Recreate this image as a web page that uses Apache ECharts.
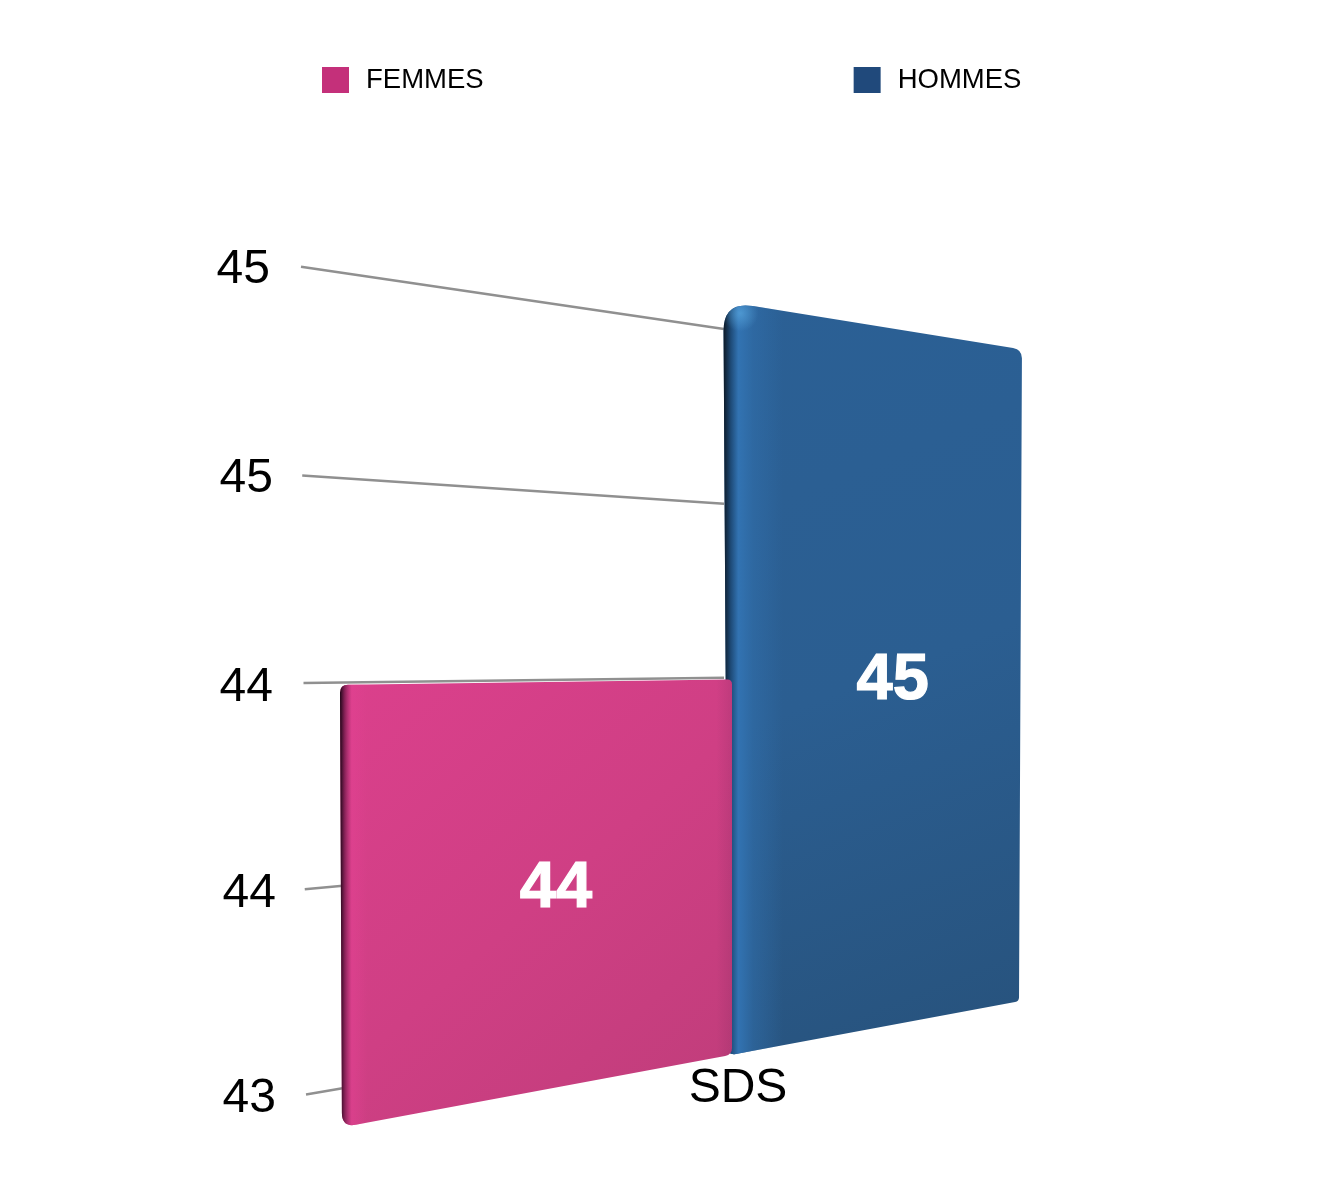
<!DOCTYPE html>
<html>
<head>
<meta charset="utf-8">
<style>html,body{margin:0;padding:0;background:#fff}#c{width:1331px;height:1178px}</style>
<script src="https://cdn.jsdelivr.net/npm/echarts@6/dist/echarts.min.js"></script>
</head>
<body>
<div id="c"></div>
<script>
const categories = ['SDS'];
const femmes = [44];
const hommes = [45];
const yTicks = [43, 43.5, 44, 44.5, 45];
const yTickLabels = ['43', '44', '44', '45', '45'];

const FONT = '"Liberation Sans", Arial, sans-serif';
const VX = 2907, VY = 650;       // vanishing point of the perspective
const TOP_R = 1.07, BASE_R = 1.089; // depth ratio of the bar plane to the wall plane
const AXIS_MIN = 43, AXIS_MAX = 45;
const chart = echarts.init(document.getElementById('c'), null, {renderer: 'canvas'});

// slight bow of the perspective in the middle of the value range
function bow(v) {
  const t = v - 44;
  return 2 * (1 - t * t);
}
function project(gridY, x0, x, r) {
  const k = (VY - gridY) / (VX - x0);
  return VY - k * r * (VX - x);
}
function roundedPath(p, rad) {
  let d = '';
  for (let i = 0; i < 4; i++) {
    const a = p[(i + 3) % 4], b = p[i], c = p[(i + 1) % 4];
    const r = rad[i];
    const la = Math.hypot(a[0]-b[0], a[1]-b[1]), lc = Math.hypot(c[0]-b[0], c[1]-b[1]);
    const s = [b[0] + (a[0]-b[0]) * r / la, b[1] + (a[1]-b[1]) * r / la];
    const e = [b[0] + (c[0]-b[0]) * r / lc, b[1] + (c[1]-b[1]) * r / lc];
    d += (i === 0 ? 'M' : 'L') + s[0] + ' ' + s[1] + ' Q' + b[0] + ' ' + b[1] + ' ' + e[0] + ' ' + e[1] + ' ';
  }
  return d + 'Z';
}
const looks = {
  FEMMES: {
    topL: -0.4575, topR: -0.0069, botL: -0.4552, botR: -0.0069, rad: [8, 5, 7, 14], lift: [0, 0],
    base: [[0, '#db408c'], [0.5, '#cf3f84'], [1, '#bf3d7a']],
    bevel: [[0, 'rgba(25,5,20,0.98)'], [0.012, 'rgba(120,28,78,0.85)'], [0.03, 'rgba(225,65,145,0.6)'], [0.07, 'rgba(225,65,145,0)'], [0.96, 'rgba(120,40,90,0)'], [1, 'rgba(120,40,90,0.2)']],
    label: '44'
  },
  HOMMES: {
    topL: -0.0168, topR: 0.3264, botL: -0.0115, botR: 0.323, rad: [30, 9, 4, 8], lift: [-5, -4],
    base: [[0, '#2b6095'], [0.5, '#2b5e91'], [1, '#27527c']],
    bevel: [[0, 'rgba(12,24,36,1)'], [0.025, 'rgba(30,75,120,1)'], [0.05, 'rgba(50,115,178,1)'], [0.1, 'rgba(50,115,178,0.45)'], [0.2, 'rgba(50,115,178,0)'], [1, 'rgba(50,115,178,0)']],
    label: '45'
  }
};

function renderBar(params, api) {
  const look = looks[params.seriesName];
  const value = api.value(1);
  const c = api.coord([0, value]);
  const base = api.coord([0, AXIS_MIN]);
  const topY = c[1] + bow(value);
  const bw = api.size([1, 0])[0];
  const x0 = params.coordSys.x;
  const xTL = c[0] + look.topL * bw, xTR = c[0] + look.topR * bw;
  const xBL = c[0] + look.botL * bw, xBR = c[0] + look.botR * bw;
  const pts = [
    [xTL, project(topY, x0, xTL, TOP_R) + look.lift[0]],
    [xTR, project(topY, x0, xTR, TOP_R) + look.lift[1]],
    [xBR, project(base[1], x0, xBR, BASE_R)],
    [xBL, project(base[1], x0, xBL, BASE_R)]
  ];
  const d = roundedPath(pts, look.rad);
  const G = echarts.graphic;
  const minY = Math.min(pts[0][1], pts[1][1]), maxY = Math.max(pts[2][1], pts[3][1]);
  const children = [
    {type: 'path', shape: {pathData: d}, style: {
      fill: new G.LinearGradient(xTL, minY, xTR, maxY, look.base.map(s => ({offset: s[0], color: s[1]})), true)}},
    {type: 'path', shape: {pathData: d}, style: {
      fill: new G.LinearGradient(xTL, 0, xTR, 0, look.bevel.map(s => ({offset: s[0], color: s[1]})), true)}}
  ];
  if (params.seriesName === 'HOMMES') {
    children.push({type: 'path', shape: {pathData: d}, style: {
      fill: new G.RadialGradient(pts[0][0] + 17, pts[0][1] + 12, 18, [
        {offset: 0, color: 'rgba(95,175,230,0.6)'}, {offset: 1, color: 'rgba(95,175,230,0)'}], true)}});
  }
  const midX = (xTL + xTR) / 2;
  const tY = project(topY, x0, midX, TOP_R), bY = project(base[1], x0, midX, BASE_R);
  children.push({type: 'text', style: {
    text: look.label, x: midX + 0.023 * bw, y: (tY + bY) / 2 + 2,
    align: 'center', verticalAlign: 'middle',
    font: 'bold 65px ' + FONT, fill: '#fff', stroke: '#fff', lineWidth: 1.2}});
  return {type: 'group', children};
}

function renderWall(params, api) {
  const v = api.value(1);
  const c = api.coord([0, v]);
  const y = c[1] + bow(v);
  const x0 = params.coordSys.x;
  const xa = x0 + (AXIS_MAX - v) * 2.5 - 2;
  const xb = x0 + 421;
  return {type: 'line', shape: {x1: xa, y1: project(y, x0, xa, 1), x2: xb, y2: project(y, x0, xb, 1)},
    style: {stroke: '#909090', lineWidth: 2.5}};
}

chart.setOption({
  animation: false,
  backgroundColor: '#fff',
  legend: {
    data: ['FEMMES', 'HOMMES'],
    left: 317, top: 61, itemWidth: 27, itemHeight: 26, itemGap: 370,
    icon: 'rect', selectedMode: false,
    textStyle: {fontFamily: FONT, fontSize: 27.5, color: '#000', padding: [4, 0, 0, 12]}
  },
  grid: {left: 303, width: 870, top: 267, height: 828},
  xAxis: {
    type: 'category', data: categories,
    axisLine: {show: false}, axisTick: {show: false}, splitLine: {show: false},
    axisLabel: {fontFamily: FONT, fontSize: 48, color: '#000', margin: -30}
  },
  yAxis: {
    type: 'value', min: AXIS_MIN, max: AXIS_MAX, interval: 0.5,
    axisLine: {show: false}, axisTick: {show: false}, splitLine: {show: false},
    axisLabel: {
      margin: 27, align: 'right',
      formatter: function (value) {
        const i = yTicks.indexOf(value);
        return '{p' + i + '|' + yTickLabels[i] + '}';
      },
      rich: {
        p0: {fontFamily: FONT, fontSize: 48, color: '#000', padding: [8, 0, 0, 0]},
        p1: {fontFamily: FONT, fontSize: 48, color: '#000', padding: [12, 0, 0, 0]},
        p2: {fontFamily: FONT, fontSize: 48, color: '#000', padding: [14, 3, 0, 0]},
        p3: {fontFamily: FONT, fontSize: 48, color: '#000', padding: [10, 3, 0, 0]},
        p4: {fontFamily: FONT, fontSize: 48, color: '#000', padding: [6, 6, 0, 0]}
      }
    }
  },
  series: [
    {name: 'wall', type: 'custom', z: 1, clip: false, renderItem: renderWall,
      encode: {x: 0, y: 1}, data: yTicks.map(v => [0, v]), silent: true},
    {name: 'HOMMES', type: 'custom', z: 2, clip: false, renderItem: renderBar,
      itemStyle: {color: '#20497b'}, encode: {x: 0, y: 1}, data: hommes.map((v, i) => [i, v])},
    {name: 'FEMMES', type: 'custom', z: 3, clip: false, renderItem: renderBar,
      itemStyle: {color: '#c4307a'}, encode: {x: 0, y: 1}, data: femmes.map((v, i) => [i, v])}
  ]
});
</script>
</body>
</html>
